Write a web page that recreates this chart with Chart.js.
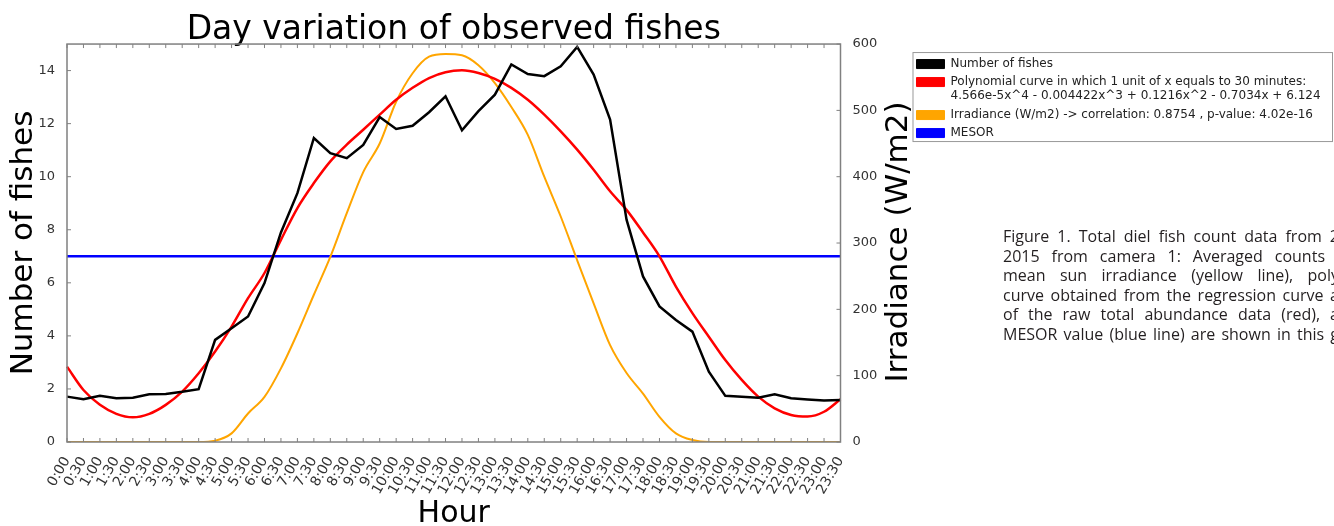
<!DOCTYPE html>
<html>
<head>
<meta charset="utf-8">
<script src="https://cdn.jsdelivr.net/npm/chart.js@4.4.1/dist/chart.umd.min.js"></script>
<style>
  html, body { margin: 0; padding: 0; background: #fff; overflow: hidden; }
  #wrap { position: relative; width: 1334px; height: 526px; overflow: hidden; }
  #caption { position: absolute; left: 1003px; top: 227px; font-family: 'Open Sans', sans-serif; font-size: 16px; line-height: 19.6px; color: #231f20; }
  #caption div { white-space: nowrap; text-align: justify; text-align-last: justify; width: 336px; }
  #caption div.short { width: 322px; }
</style>
</head>
<body>
<div id="wrap">
  <canvas id="chart" width="1334" height="526"></canvas>
  <div id="caption">
    <div>Figure 1. Total diel fish count data from 2</div>
    <div class="short">2015 from camera 1: Averaged counts</div>
    <div>mean sun irradiance (yellow line), poly</div>
    <div>curve obtained from the regression curve a</div>
    <div>of the raw total abundance data (red), a</div>
    <div>MESOR value (blue line) are shown in this g</div>
  </div>
</div>
<script>
// half-hour slots
const hours = [
    '0:00', '0:30', '1:00', '1:30', '2:00', '2:30', '3:00', '3:30',
    '4:00', '4:30', '5:00', '5:30', '6:00', '6:30', '7:00', '7:30',
    '8:00', '8:30', '9:00', '9:30', '10:00', '10:30', '11:00', '11:30',
    '12:00', '12:30', '13:00', '13:30', '14:00', '14:30', '15:00', '15:30',
    '16:00', '16:30', '17:00', '17:30', '18:00', '18:30', '19:00', '19:30',
    '20:00', '20:30', '21:00', '21:30', '22:00', '22:30', '23:00', '23:30',
];

const fishes = [
    1.71, 1.61, 1.74, 1.65, 1.67, 1.80, 1.81, 1.89, 1.99, 3.85, 4.29, 4.73,
    5.99, 7.90, 9.38, 11.46, 10.89, 10.70, 11.20, 12.25, 11.80, 11.92, 12.43, 13.03,
    11.75, 12.47, 13.09, 14.23, 13.87, 13.79, 14.16, 14.89, 13.85, 12.15, 8.38, 6.24,
    5.11, 4.60, 4.16, 2.65, 1.74, 1.71, 1.67, 1.80, 1.65, 1.60, 1.56, 1.58,
];

const polyCurve = [
    2.84, 1.96, 1.40, 1.06, 0.93, 1.06, 1.40, 1.90, 2.59, 3.41, 4.35, 5.42,
    6.37, 7.62, 8.82, 9.76, 10.58, 11.21, 11.77, 12.34, 12.90, 13.35, 13.72, 13.94,
    14.01, 13.91, 13.69, 13.35, 12.90, 12.34, 11.71, 11.02, 10.26, 9.45, 8.75, 7.90,
    7.00, 5.86, 4.86, 3.97, 3.09, 2.34, 1.71, 1.27, 1.02, 0.96, 1.14, 1.61,
];

const irradiance = [
    0, 0, 0, 0, 0, 0, 0, 0, 0, 2, 13, 43,
    68, 111, 164, 222, 279, 345, 407, 450, 513, 556, 581, 585,
    583, 568, 541, 505, 463, 400, 340, 274, 209, 146, 104, 73,
    38, 13, 3, 0, 0, 0, 0, 0, 0, 0, 0, 0,
];

const mesorHours = ['0:00', '23:30'];
const mesorValues = [7.0, 7.0];

const fishTicks = [0, 2, 4, 6, 8, 10, 12, 14];
const irrTicks = [0, 100, 200, 300, 400, 500, 600];

const font = 'DejaVu Sans';

const data = {
    labels: hours,
    datasets: [{
        label: 'Number of fishes',
        data: fishes,
        borderColor: '#000000',
        backgroundColor: '#000000',
        borderWidth: 2.5,
        yAxisID: 'y',
    }, {
        label: 'Polynomial curve in which 1 unit of x equals to 30 minutes:\n4.566e-5x^4 - 0.004422x^3 + 0.1216x^2 - 0.7034x + 6.124',
        data: polyCurve,
        borderColor: '#ff0000',
        backgroundColor: '#ff0000',
        borderWidth: 2.5,
        cubicInterpolationMode: 'monotone',
        yAxisID: 'y',
    }, {
        label: 'Irradiance (W/m2) -> correlation: 0.8754 , p-value: 4.02e-16',
        data: irradiance,
        borderColor: '#ffa500',
        backgroundColor: '#ffa500',
        borderWidth: 2,
        cubicInterpolationMode: 'monotone',
        yAxisID: 'y1',
    }, {
        label: 'MESOR',
        data: mesorHours.map((h, i) => ({x: h, y: mesorValues[i]})),
        borderColor: '#0000ff',
        backgroundColor: '#0000ff',
        borderWidth: 2.5,
        yAxisID: 'y',
    }]
};

// matplotlib-like frame, inward ticks, right axis title, legend box
const frame = {
    id: 'frame',
    afterDraw(chart) {
        const {ctx, chartArea: a, scales} = chart;
        ctx.save();
        ctx.strokeStyle = '#808080';
        ctx.lineWidth = 1.5;
        ctx.strokeRect(a.left, a.top, a.width, a.height);
        ctx.lineWidth = 1;
        ctx.beginPath();
        scales.x.ticks.forEach((t, i) => {
            const x = scales.x.getPixelForTick(i);
            ctx.moveTo(x, a.bottom); ctx.lineTo(x, a.bottom - 4);
            ctx.moveTo(x, a.top); ctx.lineTo(x, a.top + 4);
        });
        scales.y.ticks.forEach((t, i) => {
            const y = scales.y.getPixelForTick(i);
            ctx.moveTo(a.left, y); ctx.lineTo(a.left + 4, y);
        });
        scales.y1.ticks.forEach((t, i) => {
            const y = scales.y1.getPixelForTick(i);
            ctx.moveTo(a.right, y); ctx.lineTo(a.right - 4, y);
        });
        ctx.stroke();

        ctx.fillStyle = '#000';
        ctx.font = '31px "' + font + '"';
        ctx.textAlign = 'center';
        ctx.textBaseline = 'middle';
        ctx.translate(scales.y1.right - 12, 242);
        ctx.rotate(-Math.PI / 2);
        ctx.fillText('Irradiance (W/m2)', 0, 0);
        ctx.restore();

        const lg = chart.legend;
        const boxes = lg.legendHitBoxes;
        const top = boxes[0].top - 6;
        const last = boxes[boxes.length - 1];
        const left = lg.left + 2;
        ctx.save();
        ctx.strokeStyle = '#999';
        ctx.lineWidth = 1;
        ctx.strokeRect(left + 0.5, top + 0.5, chart.width - 2 - left, last.top + last.height + 2 - top);
        ctx.restore();
    }
};

const config = {
    type: 'line',
    data: data,
    options: {
        responsive: false,
        animation: false,
        layout: {padding: {left: 0, right: 11, top: 0, bottom: 0}},
        elements: {point: {radius: 0}, line: {tension: 0}},
        plugins: {
            title: {
                display: true,
                text: 'Day variation of observed fishes',
                fullSize: false,
                color: '#000',
                font: {family: font, size: 33, weight: 'normal', lineHeight: 0.85},
                padding: {top: 16, bottom: 0},
            },
            legend: {
                position: 'right',
                align: 'start',
                fullSize: false,
                maxWidth: 440,
                title: {display: true, text: '', font: {size: 1, lineHeight: 1}, padding: {top: 7, bottom: 0}},
                labels: {
                    boxWidth: 28,
                    boxHeight: 9,
                    padding: 6,
                    color: '#222',
                    font: {family: font, size: 12, lineHeight: 1.125},
                    generateLabels: chart => Chart.defaults.plugins.legend.labels.generateLabels(chart).map(item => {
                        const lines = item.text.split('\n');
                        item.text = lines.length > 1 ? lines : lines[0];
                        item.lineWidth = 1;
                        return item;
                    }),
                },
            },
            tooltip: {enabled: false},
        },
        scales: {
            x: {
                grid: {display: false},
                border: {display: false},
                ticks: {autoSkip: false, minRotation: 60, maxRotation: 60, padding: 4, color: '#333', font: {family: font, size: 14}},
                title: {display: true, text: 'Hour', color: '#000', font: {family: font, size: 30, lineHeight: 0.8}, padding: {top: 0, bottom: 0}},
                afterFit: s => { s.height = 84; },
            },
            y: {
                position: 'left',
                min: 0,
                max: 15,
                grid: {display: false},
                border: {display: false},
                afterBuildTicks: s => { s.ticks = fishTicks.map(v => ({value: v})); },
                ticks: {padding: 4, color: '#333', font: {family: font, size: 13}},
                title: {display: true, text: 'Number of fishes', color: '#000', font: {family: font, size: 31}, padding: {top: 5, bottom: 0}},
                afterFit: s => { s.width = 67; },
            },
            y1: {
                position: 'right',
                min: 0,
                max: 600,
                grid: {display: false},
                border: {display: false},
                afterBuildTicks: s => { s.ticks = irrTicks.map(v => ({value: v})); },
                ticks: {padding: 4, color: '#333', font: {family: font, size: 13}},
                afterFit: s => { s.width = 70; },
            },
        },
    },
    plugins: [frame],
};

const myChart = new Chart(document.getElementById('chart'), config);
</script>
</body>
</html>
